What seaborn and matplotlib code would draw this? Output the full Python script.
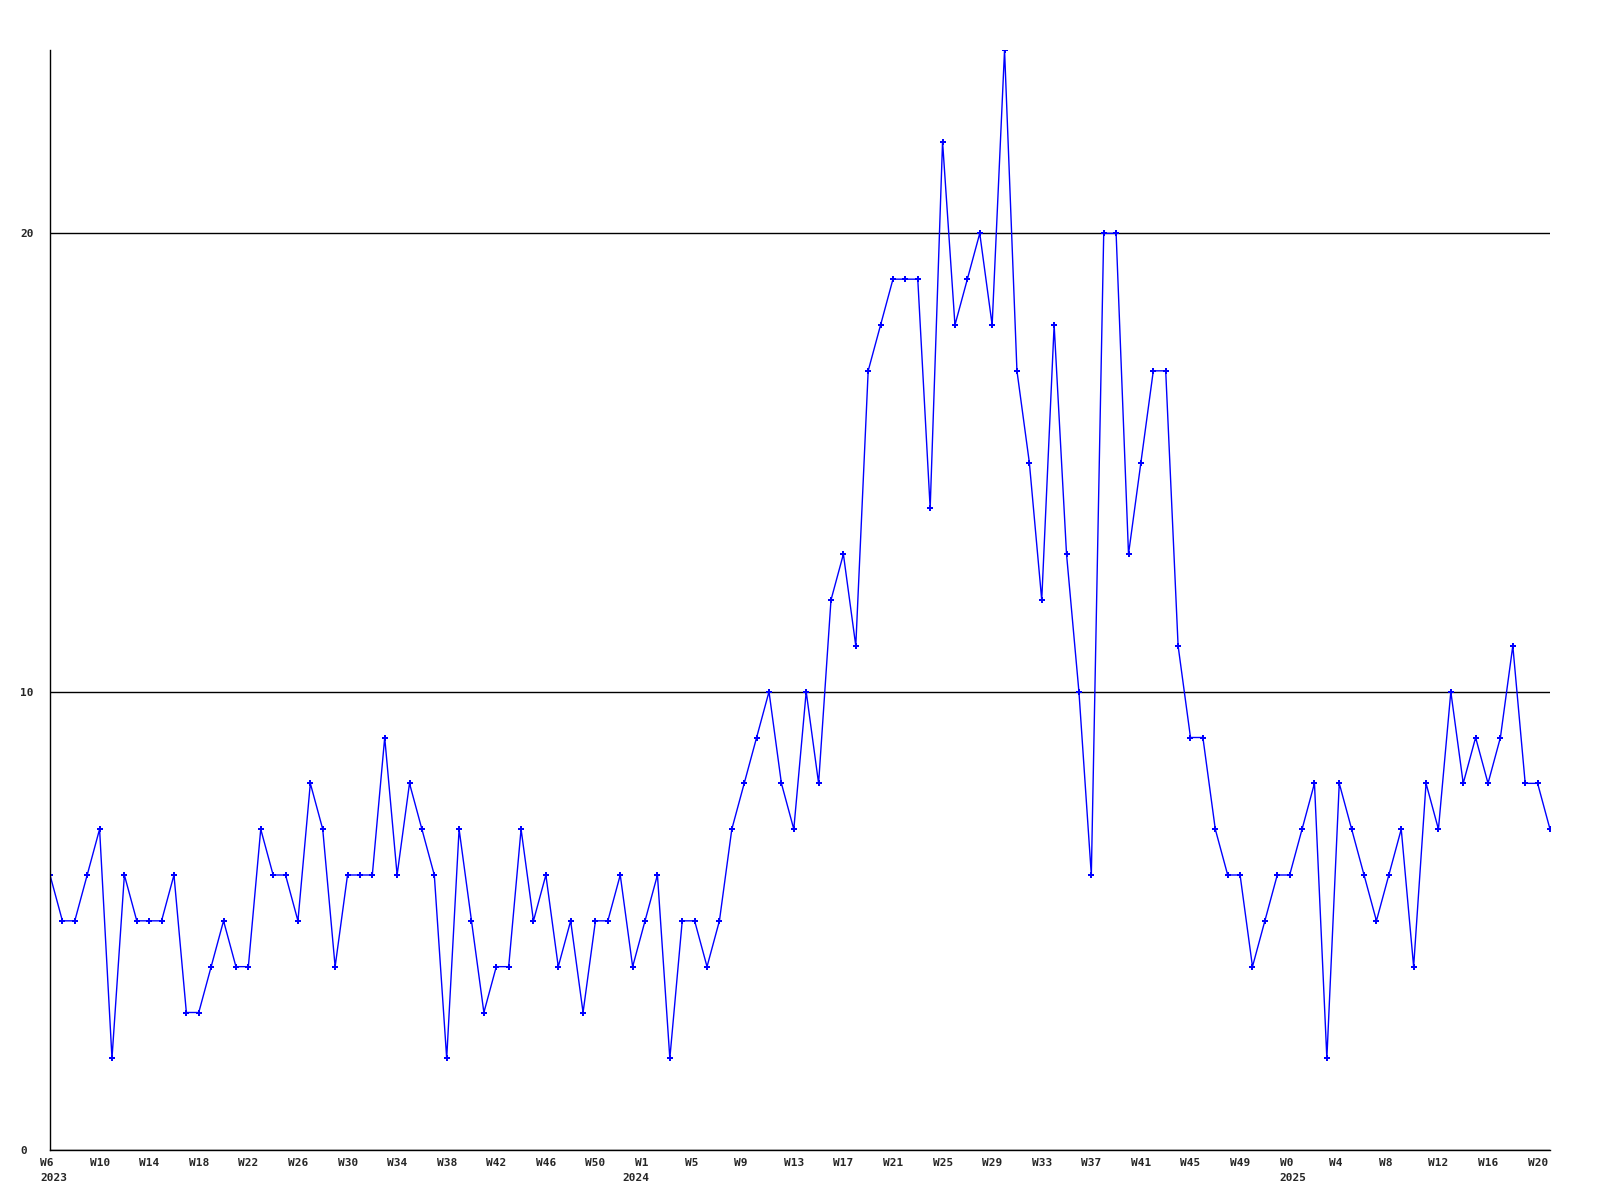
import matplotlib
matplotlib.use('Agg')
import matplotlib.pyplot as plt
import matplotlib.transforms as mtransforms
import seaborn as sns
import pandas as pd

# weekly counts, 2023 W6 .. 2025 W21
vals_2023 = [6, 5, 5, 6, 7, 2, 6, 5, 5, 5, 6, 3, 3, 4, 5, 4, 4, 7, 6, 6,
             5, 8, 7, 4, 6, 6, 6, 9, 6, 8, 7, 6, 2, 7, 5, 3, 4, 4, 7, 5,
             6, 4, 5, 3, 5, 5, 6]
vals_2024 = [4, 5, 6, 2, 5, 5, 4, 5, 7, 8, 9, 10, 8, 7, 10, 8, 12, 13, 11, 17,
             18, 19, 19, 19, 14, 22, 18, 19, 20, 18, 24, 17, 15, 12, 18, 13, 10, 6, 20, 20,
             13, 15, 17, 17, 11, 9, 9, 7, 6, 6, 4, 5, 6]
vals_2025 = [6, 7, 8, 2, 8, 7, 6, 5, 6, 7, 4, 8, 7, 10, 8, 9, 8, 9, 11, 8,
             8, 7]

weeks_2023 = ['W%d' % w for w in range(6, 53)]
weeks_2024 = ['W%d' % w for w in range(0, 53)]
weeks_2025 = ['W%d' % w for w in range(0, 22)]

years = ['2023', '2024', '2025']

week_labels = weeks_2023 + weeks_2024 + weeks_2025
values = vals_2023 + vals_2024 + vals_2025
year_start = [0, len(vals_2023), len(vals_2023) + len(vals_2024)]

df = pd.DataFrame({'idx': range(len(values)), 'count': values})

sns.set_style('white')
plt.rcParams['font.family'] = ['DejaVu Sans Mono', 'DejaVu Sans']
plt.rcParams['font.weight'] = 'bold'

fig = plt.figure(figsize=(16, 12), dpi=100)
ax = fig.add_axes([50 / 1600, 50 / 1200, 1500 / 1600, 1100 / 1200])

sns.lineplot(data=df, x='idx', y='count', ax=ax, color='#0000ff',
             linewidth=1, marker='P', markersize=4, markeredgewidth=0)

ax.set_xlim(0, len(values) - 1)
ax.set_ylim(0, 24)

for s in ['top', 'right']:
    ax.spines[s].set_visible(False)
for s in ['left', 'bottom']:
    ax.spines[s].set_color('black')
    ax.spines[s].set_linewidth(1)

ax.set_yticks([0, 10, 20])
ax.set_yticklabels(['0', '10', '20'])
ax.yaxis.grid(True, color='black', linewidth=1)
ax.xaxis.grid(False)
ax.tick_params(axis='y', length=0, pad=21.6, labelsize=8)
for lab in ax.get_yticklabels():
    lab.set_horizontalalignment('left')

# year labels sit on minor ticks, some share a spot with a week tick
ax.xaxis.remove_overlapping_locs = False
major = list(range(0, len(values), 4))
ax.set_xticks(major)
ax.set_xticklabels([week_labels[i] for i in major])
ax.set_xticks(year_start, minor=True)
ax.set_xticklabels(years, minor=True)
ax.tick_params(axis='x', which='major', length=0, pad=5.8, labelsize=8)
ax.tick_params(axis='x', which='minor', length=0, pad=16.6, labelsize=8)

shift = mtransforms.ScaledTranslation(-10 / 100, 0, fig.dpi_scale_trans)
for lab in ax.get_xticklabels() + ax.get_xticklabels(minor=True):
    lab.set_horizontalalignment('left')
    lab.set_transform(lab.get_transform() + shift)

ax.set_xlabel('')
ax.set_ylabel('')

fig.savefig('out.png', dpi=100)
